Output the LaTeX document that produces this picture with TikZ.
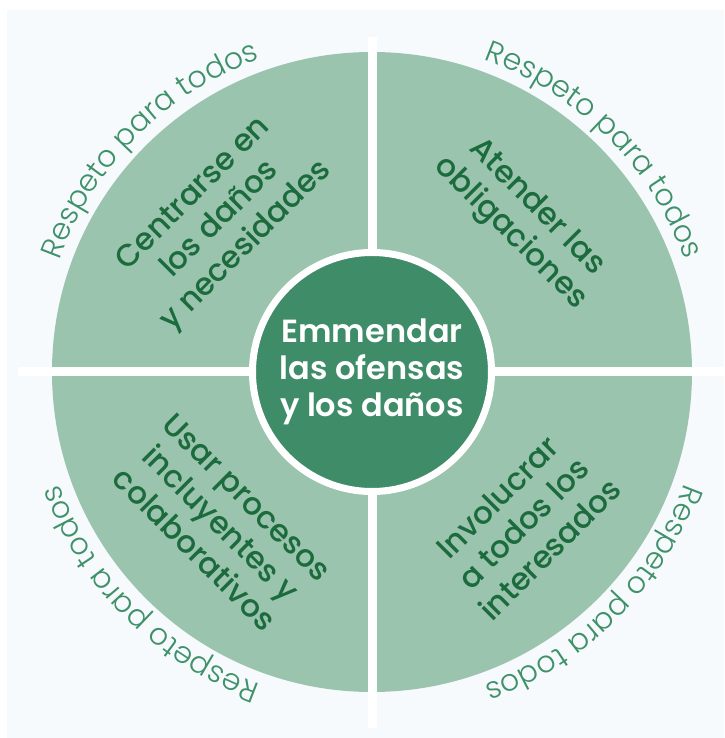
\documentclass[tikz,border=0pt]{standalone}
\usepackage{fontspec}
\setmainfont{Poppins}
\newfontfamily\rimfont{Poppins Light}
\newfontfamily\quadfont{Poppins Medium}
\newfontfamily\hubfont{Poppins SemiBold}
\usepackage{tikz}
\usetikzlibrary{decorations.text}
\definecolor{pagebg}{RGB}{246, 250, 253}
\definecolor{diskgreen}{RGB}{155, 196, 175}
\definecolor{hubgreen}{RGB}{63, 140, 105}
\definecolor{quadgreen}{RGB}{27, 107, 61}
\definecolor{rimgreen}{RGB}{63, 145, 105}

\begin{document}
\begin{tikzpicture}[
    x=1pt, y=1pt,
    quad/.style={align=center, text=quadgreen, inner sep=0pt, font=\quadfont\fontsize{31}{37}\selectfont},
    hub/.style={circle, fill=hubgreen, draw=white, line width=7pt, minimum size=239pt, inner sep=0pt, align=center, text=white, font=\hubfont\fontsize{32}{37}\selectfont},
    rim/.style={decorate, decoration={text along path, text align=center, text color=rimgreen, text={|\rimfont\fontsize{30}{30}\selectfont|Respeto para todos}}},
    gap/.style={draw=white, line width=9pt}
]
    \useasboundingbox (-372,-366) rectangle (352,372);
    \fill[pagebg] (-365,-366) rectangle (352,362);

    \node[circle, fill=diskgreen, minimum size=640pt, inner sep=0pt] (disk) at (0,0) {};
    \draw[gap] (-354,0) -- (352,0);
    \draw[gap] (0,335) -- (0,-356);

    \node[hub] (hub) at (0,0) {Emmendar\\las ofensas\\y los daños};

    \node[quad, rotate=45] (needs) at (135:214pt) {Centrarse en\\los daños\\y necesidades};
    \node[quad, rotate=-45] (duties) at (45:214pt) {Atender las\\obligaciones};
    \node[quad, rotate=-45] (process) at (225:214pt) {Usar procesos\\incluyentes y\\colaborativos};
    \node[quad, rotate=45] (involve) at (-45:214pt) {Involucrar\\a todos los\\interesados};

    \foreach \a in {45, 135, 225, 315}
        \path[rim] (\a+30:332pt) arc[start angle=\a+30, end angle=\a-30, radius=332pt];
\end{tikzpicture}
\end{document}
